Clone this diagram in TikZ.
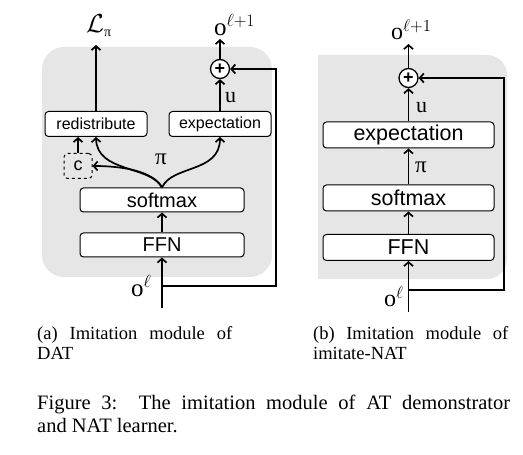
\RequirePackage{fix-cm}
\documentclass[tikz,border=0pt]{standalone}
\usepackage{fontspec}
\setmainfont{Liberation Serif}
\setsansfont{Liberation Sans}
\usetikzlibrary{arrows.meta}
\definecolor{panel}{RGB}{230,230,230}
\newcommand{\fs}[1]{\fontsize{#1}{#1}\selectfont}
\tikzset{
  blk/.style={draw, line width=1pt, rounded corners=3.5pt, fill=white, inner sep=0pt, font=\sffamily},
  arr/.style={line width=1.7pt, -{Straight Barb[length=4pt,width=9pt]}},
  plusc/.style={draw, circle, line width=1.3pt, minimum size=19pt, inner sep=0pt, fill=white, font=\sffamily\bfseries\fs{18}},
  lbl/.style={inner sep=0pt, anchor=base west},
  captext/.style={inner sep=0pt, anchor=base west},
}
\begin{document}
\begin{tikzpicture}[x=1pt,y=1pt]
\useasboundingbox (0,0) rectangle (523,455);
% panels
\fill[panel, rounded corners=22pt] (42,178) rectangle (272,408);
\fill[panel] (318,176) -- (487,176) arc[start angle=-90,end angle=0,radius=20] -- (507,380) arc[start angle=0,end angle=90,radius=20] -- (318,400) -- cycle;

% ---------- left panel ----------
\node[blk, minimum width=102pt, minimum height=25pt, font=\sffamily\fs{16}] (red) at (96,331) {redistribute};
\node[blk, minimum width=102pt, minimum height=25pt, font=\sffamily\fs{16}] (expA) at (220,331) {expectation};
\node[blk, minimum width=164pt, minimum height=24pt, font=\sffamily\fs{20}] (smA) at (162,255) {softmax};
\node[blk, minimum width=164pt, minimum height=24pt, font=\sffamily\fs{20}] (ffnA) at (162,210) {FFN};
\node[draw, dashed, line width=1pt, rounded corners=3.5pt, minimum width=28pt, minimum height=25pt, inner sep=0pt, font=\sffamily\fs{18}] (cbox) at (78,289) {c};
\node[plusc] (plusA) at (220,386) {+};
\node[lbl, font=\fs{25}] (oA) at (214,419) {o$^{\ell+1}$};
\node[lbl, font=\fs{26}] (LA) at (86,422) {$\mathcal{L}_{\hbox{\fs{14}π}}$};
\node[lbl, font=\fs{22}] (uA) at (225,352) {u};
\node[lbl, font=\fs{23}] (piA) at (155,290) {π};
\node[lbl, font=\fs{25}] (olA) at (131,158) {o$^{\ell}$};
\coordinate (inA) at (162,147);
\coordinate (fbA) at (162,169);

\draw[arr] (inA) -- (ffnA.south);
\draw[arr] (ffnA.north) -- (smA.south);
\draw[arr] (smA.north) .. controls (150,290) and (97,282) .. (red.south);
\draw[arr] (smA.north) .. controls (153,284) and (122,289) .. (cbox.east);
\draw[arr] (smA.north) .. controls (172,290) and (220,282) .. (expA.south);
\draw[arr] (cbox.north) -- (cbox.north |- red.south);
\draw[arr] (red.north) -- (96,410);
\draw[arr] (expA.north) -- (plusA.south);
\draw[arr] (plusA.north) -- (220,416);
\draw[arr] (fbA) -- (276,169) |- (plusA.east);

% ---------- right panel ----------
\node[blk, minimum width=171pt, minimum height=26pt, font=\sffamily\fs{21.5}] (expB) at (408.5,320) {expectation};
\node[blk, minimum width=171pt, minimum height=26pt, font=\sffamily\fs{21.5}] (smB) at (408.5,257) {softmax};
\node[blk, minimum width=171pt, minimum height=26pt, font=\sffamily\fs{21.5}] (ffnB) at (408.5,207.5) {FFN};
\node[plusc] (plusB) at (408.5,377) {+};
\node[lbl, font=\fs{24}] (oB) at (391,415) {o$^{\ell+1}$};
\node[lbl, font=\fs{22}] (uB) at (416,342) {u};
\node[lbl, font=\fs{23}] (piB) at (415,282) {π};
\node[lbl, font=\fs{24}] (olB) at (384,148) {o$^{\ell}$};
\coordinate (inB) at (408.5,143);
\coordinate (fbB) at (408.5,165);

\draw[arr] (inB) -- (ffnB.south);
\draw[arr] (ffnB.north) -- (smB.south);
\draw[arr] (smB.north) -- (expB.south);
\draw[arr] (expB.north) -- (plusB.south);
\draw[arr] (plusB.north) -- (408.5,411);
\draw[arr] (fbB) -- (504,165) |- (plusB.east);

% ---------- captions ----------
\node[captext, font=\fs{18.5}] (ca1) at (37,115) {\makebox[195pt][s]{(a) Imitation module of}};
\node[captext, font=\fs{18.5}] (ca2) at (37,95) {DAT};
\node[captext, font=\fs{18.5}] (cb1) at (313,115) {\makebox[195pt][s]{(b) Imitation module of}};
\node[captext, font=\fs{18.5}] (cb2) at (313,95) {imitate-NAT};
\node[captext, font=\fs{20.5}] (f1) at (37,45) {\makebox[473pt][s]{Figure 3:\ \ The imitation module of AT demonstrator}};
\node[captext, font=\fs{20.5}] (f2) at (37,22) {and NAT learner.};
\end{tikzpicture}
\end{document}
